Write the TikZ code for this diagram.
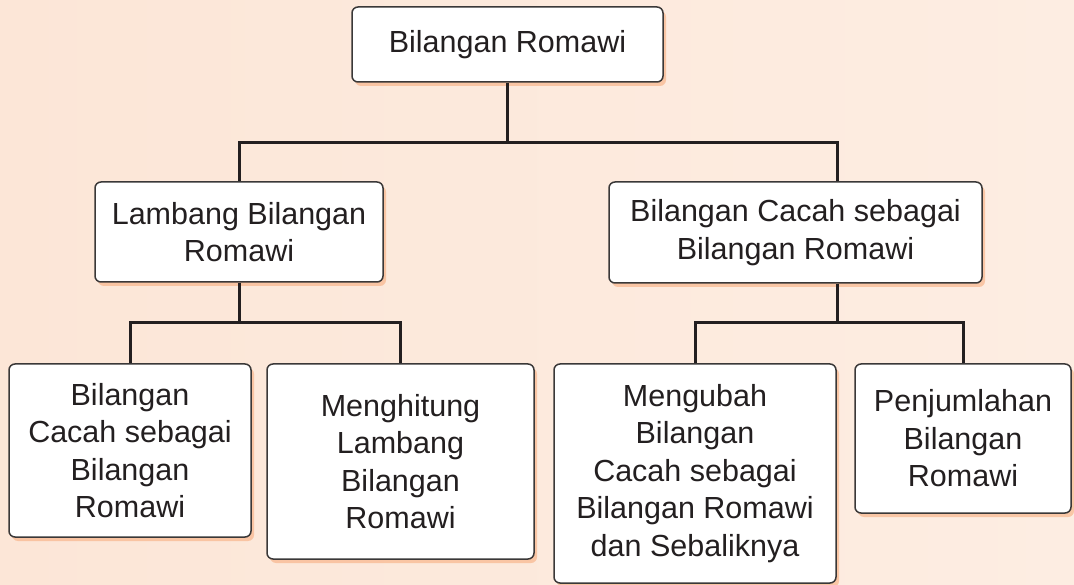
\documentclass[tikz,border=0pt]{standalone}
\usepackage{fontspec}
\setmainfont{Liberation Sans}
\usetikzlibrary{shadows}

\definecolor{inkdark}{RGB}{35,31,32}
\definecolor{boxline}{RGB}{58,56,56}
\definecolor{peachL}{RGB}{252,230,215}
\definecolor{peachM}{RGB}{254,245,239}
\definecolor{peachR}{RGB}{253,237,226}
\definecolor{glow}{RGB}{247,168,118}

\tikzset{
	topicbox/.style={draw=boxline, line width=1.5pt, fill=white, rounded corners=6pt,
		align=center, inner sep=0pt, text=inkdark, font=\fontsize{30.5}{37.5}\selectfont,
		drop shadow={shadow xshift=3pt, shadow yshift=-4pt, fill=glow, opacity=0.55}},
	link/.style={draw=inkdark, line width=3pt},
}

\begin{document}
\begin{tikzpicture}[x=1pt,y=-1pt]
	
	% --- background first ---
	\useasboundingbox (0,0) rectangle (1074,585);
	\shade[left color=peachL, middle color=peachM, right color=peachR] (0,0) rectangle (1074,585);
	
	% junctions of the connectors
	\coordinate (barA) at (507.5,143);
	\coordinate (barB) at (239,323);
	\coordinate (barC) at (837,323);
	
	% top
	\node[topicbox, minimum width=311pt, minimum height=75pt] (romawi) at (507.5,44.5) {Bilangan Romawi};
	
	% second row
	\node[topicbox, minimum width=288pt, minimum height=100pt] (lambang) at (239,232) {Lambang Bilangan\\Romawi};
	\node[topicbox, minimum width=373pt, minimum height=101pt] (cacah) at (795.5,232.5) {Bilangan Cacah sebagai\\Bilangan Romawi};
	
	% third row
	\node[topicbox, minimum width=242pt, minimum height=173pt] (cacahRom) at (130,450.5) {Bilangan\\Cacah sebagai\\Bilangan\\Romawi};
	\node[topicbox, minimum width=267pt, minimum height=195pt] (hitung) at (400.5,461.5) {Menghitung\\Lambang\\Bilangan\\Romawi};
	\node[topicbox, minimum width=282pt, minimum height=219pt] (ubah) at (695,473.5) {Mengubah\\Bilangan\\Cacah sebagai\\Bilangan Romawi\\dan Sebaliknya};
	\node[topicbox, minimum width=216pt, minimum height=149pt] (jumlah) at (963,438.5) {Penjumlahan\\Bilangan\\Romawi};
	
	% --- connectors ---
	\draw[link] (romawi.south) -- (barA);
	\draw[link] (lambang.north) |- (barA) -| ([xshift=41.5pt]cacah.north);
	
	\draw[link] (lambang.south) -- (barB);
	\draw[link] (cacahRom.north) |- (barB) -| (hitung.north);
	
	\draw[link] ([xshift=41.5pt]cacah.south) -- (barC);
	\draw[link] (ubah.north) |- (barC) -| (jumlah.north);
	
\end{tikzpicture}
\end{document}
